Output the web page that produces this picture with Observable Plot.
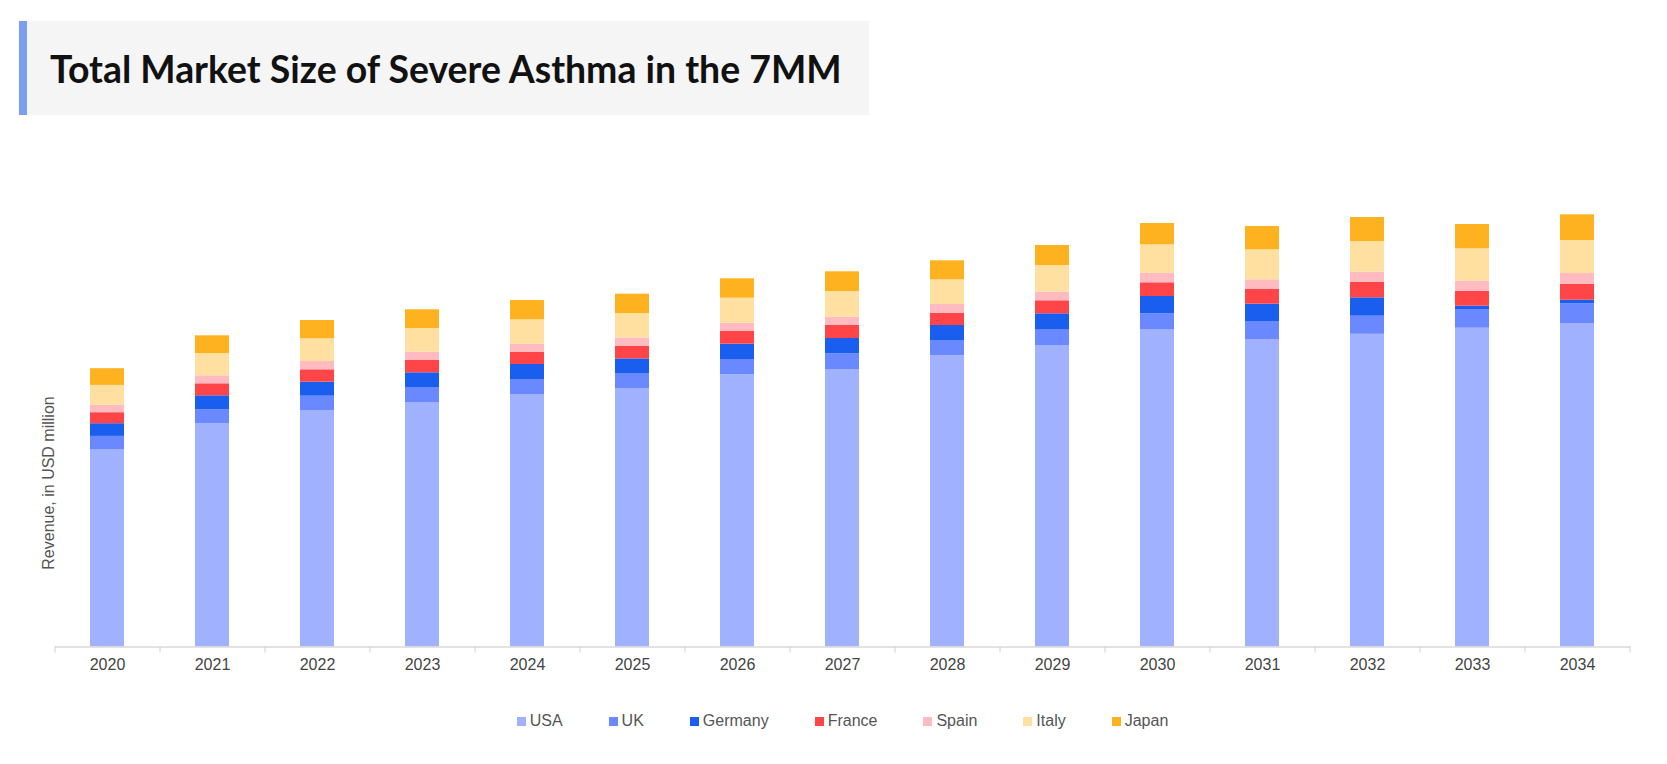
<!DOCTYPE html>
<html>
<head>
<meta charset="utf-8">
<script src="https://cdn.jsdelivr.net/npm/d3@7"></script>
<script src="https://cdn.jsdelivr.net/npm/@observablehq/plot@0.6"></script>
<style>
  html, body { margin: 0; padding: 0; background: #fff; }
  body { width: 1667px; height: 764px; position: relative; overflow: hidden; font-family: "Liberation Sans", Arial, sans-serif; }
  #title { position: absolute; left: 19px; top: 21px; width: 850px; height: 94px; background: #f5f5f5; border-left: 8px solid #7b9df2; box-sizing: border-box; }
  #title span { position: absolute; left: 23px; top: 50%; transform: translateY(-50%); font-family: Lato, sans-serif; font-weight: 700; font-size: 37.4px; color: #111; white-space: nowrap; }
  #chart { position: absolute; left: 0; top: 120px; }
  #ylabel { position: absolute; left: 49px; top: 483px; transform: translate(-50%, -50%) rotate(-90deg); font-size: 16px; color: #555; white-space: nowrap; }
  #legend { position: absolute; left: 55px; width: 1575px; top: 712px; display: flex; justify-content: center; font-size: 16px; color: #555; }
  .item { display: flex; align-items: center; margin: 0 23px; }
  .sw { width: 9px; height: 9px; margin-right: 4px; }
</style>
</head>
<body>
<div id="title"><span>Total Market Size of Severe Asthma in the 7MM</span></div>
<div id="chart"></div>
<div id="ylabel">Revenue, in USD million</div>
<div id="legend"></div>
<script>
const years = ["2020","2021","2022","2023","2024","2025","2026","2027","2028","2029","2030","2031","2032","2033","2034"];
const countries = ["USA","UK","Germany","France","Spain","Italy","Japan"];
const colors = ["#a0b2ff","#6a88ff","#1a5ef0","#ff4548","#ffbbbf","#ffe0a0","#ffb21f"];
const usa     = [197, 223.2, 236.5, 244.5, 252.5, 258.5, 272.2, 277.5, 291.2, 301.5, 317, 307.5, 312.7, 318.8, 323.5];
const uk      = [13.6, 14, 14.3, 15, 15, 15, 15.3, 15.7, 15.3, 16, 16.2, 18, 18.1, 18.7, 19.7];
const germany = [12.7, 14, 14, 14.7, 15, 14.6, 15.3, 15.3, 15, 15.7, 17.3, 17.3, 18.4, 3.3, 3.6];
const france  = [11, 12, 12.4, 12.3, 12.3, 12.4, 12.7, 13, 12.3, 13, 13.7, 14.7, 15.3, 15, 16];
const spain   = [7.3, 8, 8.3, 8.3, 8, 8.6, 8.3, 8.3, 8.7, 8.6, 9.6, 9.7, 10.3, 10, 10.7];
const italy   = [20, 22.3, 22.7, 23.7, 24.4, 24.4, 25, 25.7, 24.7, 26.7, 28.4, 30, 30.7, 32.4, 33];
const japan   = [16.7, 17.7, 18.3, 18.7, 19.3, 19.3, 19.4, 19.7, 19, 20, 21.3, 23.3, 24, 24.3, 25.7];

const series = [usa, uk, germany, france, spain, italy, japan];
const data = [];
countries.forEach((c, i) => years.forEach((y, j) => data.push({year: y, country: c, value: series[i][j]})));

const W = 1667, H = 560, mL = 55, mR = 37, mB = 33.5, mT = 0;
const step = (W - mL - mR) / years.length;

const plot = Plot.plot({
  width: W, height: H,
  marginLeft: mL, marginRight: mR, marginTop: mT, marginBottom: mB,
  style: {fontFamily: "'Liberation Sans', Arial, sans-serif", fontSize: "16px", color: "#444", background: "transparent"},
  x: {domain: years, paddingInner: 0.676, paddingOuter: 0.338, label: null},
  y: {domain: [0, H - mB - mT], axis: null},
  color: {domain: countries, range: colors},
  marks: [
    Plot.barY(data, {x: "year", y: "value", fill: "country", order: countries}),
    Plot.ruleY([0], {stroke: "#d9d9d9", strokeWidth: 1.5}),
    Plot.axisX({tickSize: 0, tickPadding: 12, fontSize: 16, fill: "#444", label: null}),
    Plot.axisX({tickSize: 6, stroke: "#d0d0d0", text: null, dx: -step / 2, label: null}),
    Plot.axisX([years[years.length - 1]], {tickSize: 6, stroke: "#d0d0d0", text: null, dx: step / 2, label: null})
  ]
});
document.getElementById("chart").appendChild(plot);

const lg = document.getElementById("legend");
countries.forEach((c, i) => {
  const it = document.createElement("div");
  it.className = "item";
  it.innerHTML = `<span class="sw" style="background:${colors[i]}"></span><span>${c}</span>`;
  lg.appendChild(it);
});
</script>
</body>
</html>
